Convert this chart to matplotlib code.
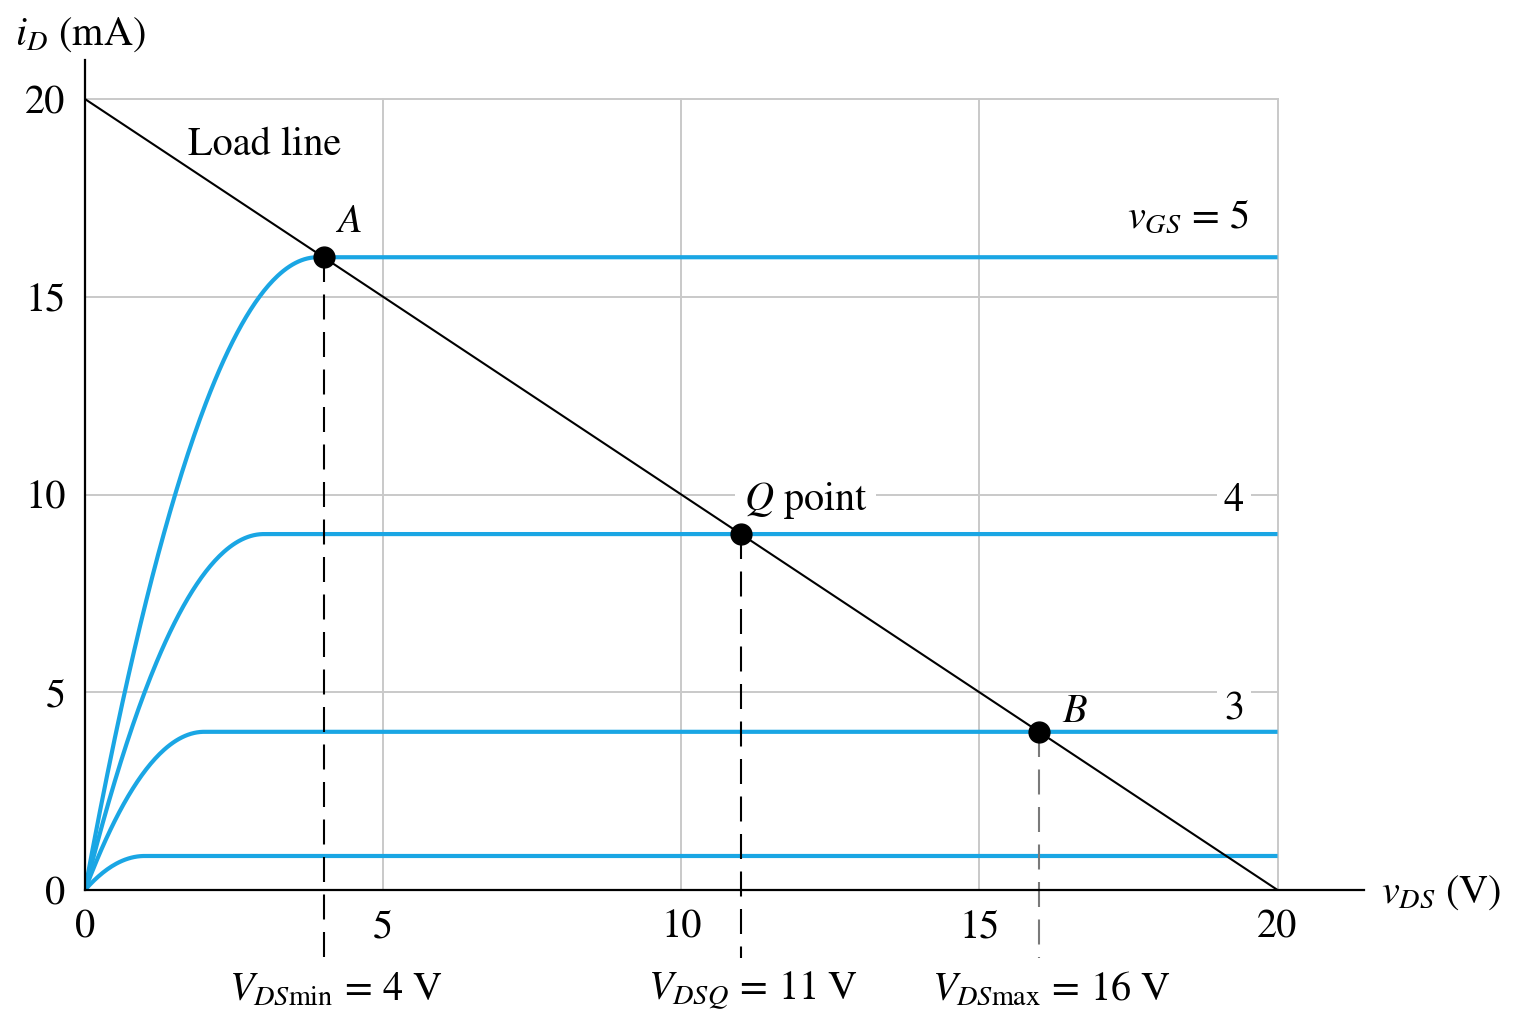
import numpy as np
import matplotlib
matplotlib.use("Agg")
import matplotlib.pyplot as plt

plt.rcParams["font.family"] = ["STIXGeneral", "DejaVu Serif"]
plt.rcParams["mathtext.fontset"] = "stix"

# Load line end points (V_DD = 20 V, I = 20 mA)
load_v = [0, 20]
load_i = [20, 0]

# Drain characteristics: saturation current and knee voltage per curve
sat_current = [16.0, 9.0, 4.0, 0.86]
knee_voltage = [3.9, 3.0, 2.0, 1.0]
vgs_labels = [r"$v_{GS}\,=\,5$", "4", "3", None]

# Operating points on the load line
pt_names = ["A", "Q", "B"]
pt_v = [4, 11, 16]
pt_i = [16, 9, 4]
pt_labels = [r"$V_{DS\mathrm{min}}\,=\,4\ \mathrm{V}$",
             r"$V_{DSQ}\,=\,11\ \mathrm{V}$",
             r"$V_{DS\mathrm{max}}\,=\,16\ \mathrm{V}$"]
pt_dash_colors = ["black", "black", "#7a7a7a"]

x_ticks = [0, 5, 10, 15, 20]
y_ticks = [0, 5, 10, 15, 20]

blue = "#1aa6e4"
grid_c = "#c9c9c9"
fs = 29

fig = plt.figure(figsize=(15.28, 10.16), dpi=100)
ax = fig.add_axes([85 / 1528, 126 / 1016, (1364 - 85) / 1528, (890 - 59.5) / 1016])
ax.set_xlim(0, 21.45)
ax.set_ylim(0, 21.0)

for s in ["top", "right"]:
    ax.spines[s].set_visible(False)
for s in ["left", "bottom"]:
    ax.spines[s].set_linewidth(1.6)
    ax.spines[s].set_color("black")
    ax.spines[s].set_zorder(5)

# Grid drawn only over the 0..20 region
for t in x_ticks[1:]:
    ax.plot([t, t], [0, y_ticks[-1]], color=grid_c, lw=1.4, zorder=1)
for t in y_ticks[1:]:
    ax.plot([0, x_ticks[-1]], [t, t], color=grid_c, lw=1.4, zorder=1)

ax.set_xticks(x_ticks)
ax.set_yticks(y_ticks)
ax.set_xticklabels([str(t) for t in x_ticks])
ax.set_yticklabels([str(t) for t in y_ticks])
ax.tick_params(axis="both", length=0, labelsize=fs)
ax.tick_params(axis="x", pad=14)
ax.tick_params(axis="y", pad=14)

# Drain characteristic curves: parabolic triode region, flat saturation
for isat, vk in zip(sat_current, knee_voltage):
    v = np.linspace(0, 20, 800)
    i = np.where(v < vk, isat * (1 - (1 - v / vk) ** 2), isat)
    ax.plot(v, i, color=blue, lw=3.0, zorder=3, solid_capstyle="butt")

# Load line
ax.plot(load_v, load_i, color="black", lw=1.5, zorder=4)

# Dashed projections and operating points
for v, i, c in zip(pt_v, pt_i, pt_dash_colors):
    ax.plot([v, v], [i, -1.72], color=c, lw=1.5, dashes=(12, 6),
            clip_on=False, zorder=4)
ax.plot(pt_v, pt_i, "o", color="black", ms=15, zorder=6)

for v, lab in zip(pt_v, pt_labels):
    ax.text(v + 0.2, -2.78, lab, fontsize=fs, ha="center", va="baseline",
            clip_on=False)

# Point annotations
ax.text(4.43, 16.64, "A", fontsize=fs, style="italic", ha="center", va="baseline")
ax.text(16.6, 4.25, "B", fontsize=fs, style="italic", ha="center", va="baseline")
ax.text(11.05, 9.6, r"$Q$ point", fontsize=fs, ha="left", va="baseline",
        bbox=dict(facecolor="white", edgecolor="none", pad=6), zorder=2)
ax.text(1.73, 18.58, "Load line", fontsize=fs, ha="left", va="baseline")

# v_GS labels for each curve
ax.text(19.53, 16.74, vgs_labels[0], fontsize=fs, ha="right", va="baseline")
ax.text(19.27, 9.58, vgs_labels[1], fontsize=fs, ha="center", va="baseline",
        bbox=dict(facecolor="white", edgecolor="none", pad=5), zorder=2)
ax.text(19.27, 4.3, vgs_labels[2], fontsize=fs, ha="center", va="baseline",
        bbox=dict(facecolor="white", edgecolor="none", pad=5), zorder=2)

# Axis titles
ax.text(-1.17, 21.37, r"$i_D$ (mA)", fontsize=fs, ha="left", va="baseline",
        clip_on=False)
ax.text(21.74, -0.33, r"$v_{DS}$ (V)", fontsize=fs, ha="left", va="baseline",
        clip_on=False)

fig.savefig("out.png", dpi=100, facecolor="white")
